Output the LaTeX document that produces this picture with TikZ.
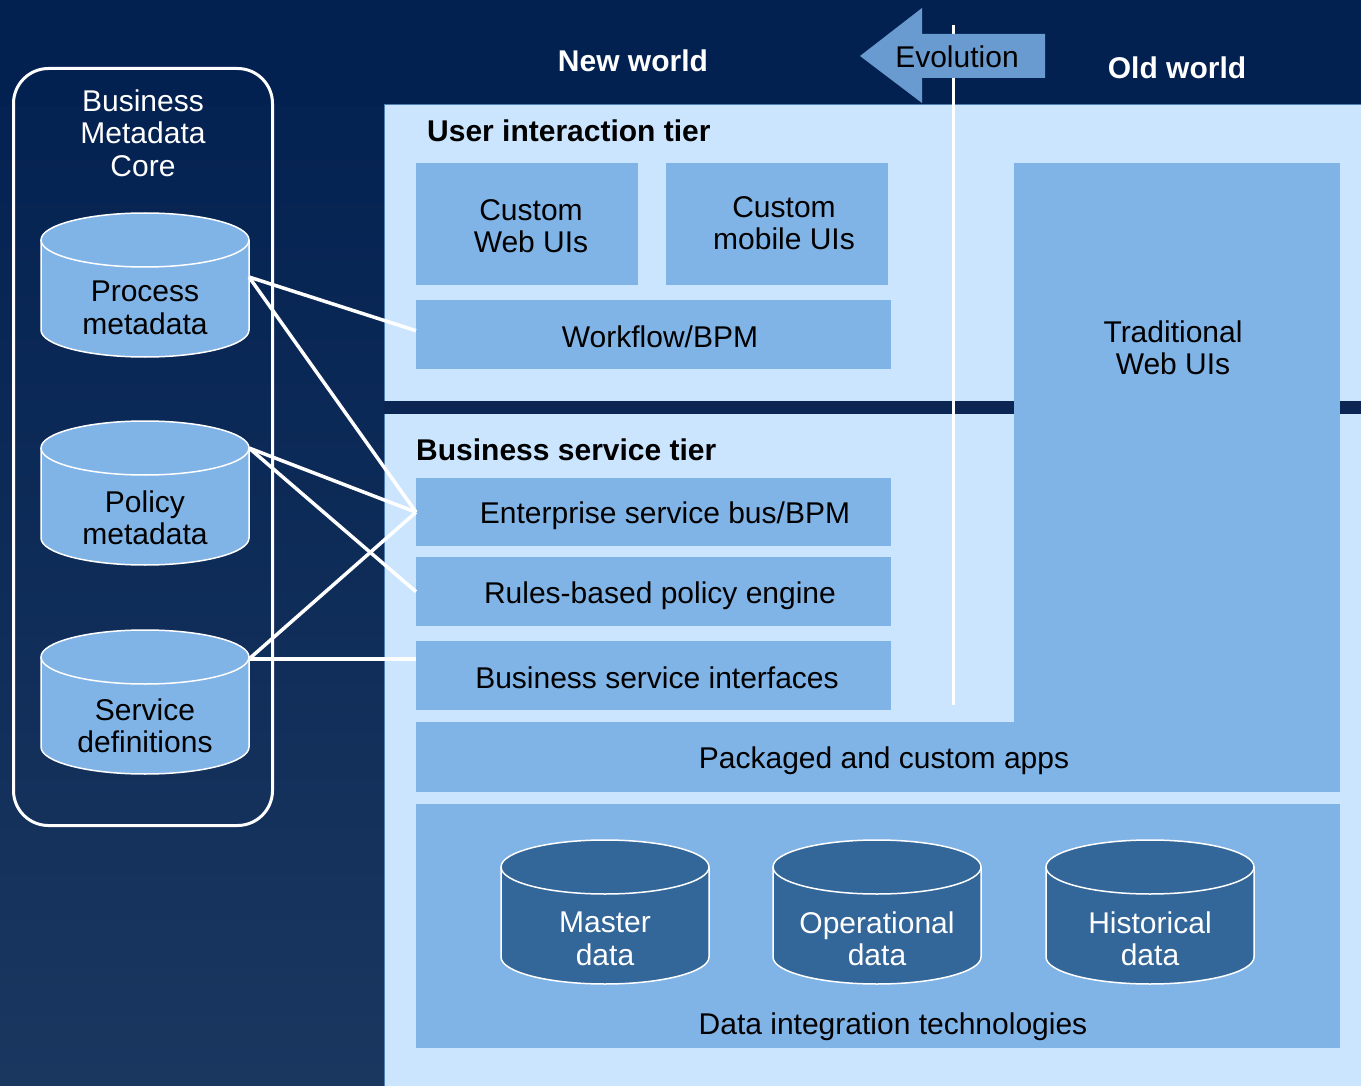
\documentclass[tikz,border=0pt]{standalone}
\usepackage{fontspec}
\setmainfont{Liberation Sans}
\definecolor{bgdark}{HTML}{0B2652}
\definecolor{bgtop}{HTML}{022050}
\definecolor{bgbot}{HTML}{1A3760}
\definecolor{panel}{HTML}{CCE5FF}
\definecolor{midblue}{HTML}{80B3E6}
\definecolor{cyldark}{HTML}{336699}
\definecolor{arrowblue}{HTML}{6A9BD0}
\definecolor{paneledge}{HTML}{4F7FB5}
\newcommand\mycyl[7]{%
  \fill[#4] (#2-104,#3+27) -- (#2-104,#3+117)
    arc[start angle=180,end angle=0,x radius=104,y radius=27]
    -- (#2+104,#3+27)
    arc[start angle=0,end angle=-180,x radius=104,y radius=27] -- cycle;
  \draw[white,line width=1.5] (#2-104,#3+27) -- (#2-104,#3+117)
    arc[start angle=180,end angle=0,x radius=104,y radius=27]
    -- (#2+104,#3+27);
  \draw[white,line width=1.5] (#2,#3+27) ellipse[x radius=104,y radius=27];
  \node[txt,text=#5] (#1) at (#2,#3+#7) {#6};
}
\begin{document}
\begin{tikzpicture}[x=1pt,y=-1pt,
  txt/.style={font=\fontsize{30}{32.5}\selectfont,align=center,inner sep=0},
  btxt/.style={font=\fontsize{30}{32}\selectfont\bfseries,inner sep=0},
  fillbox/.style={fill=midblue,inner sep=0,txt},
  conn/.style={draw=white,line width=3.5}]
\useasboundingbox (0,0) rectangle (1361,1086);
% background
\shade[top color=bgtop,bottom color=bgbot] (0,0) rectangle (1361,1086);
\fill[bgtop] (0,0) rectangle (1361,105);
% panel
\fill[panel,draw=paneledge,line width=1] (384,105) rectangle (1361,1090);
\fill[bgdark] (384,401) rectangle (1361,414);
% boxes
\node[fillbox,minimum width=222,minimum height=122,anchor=north west] (cweb) at (416,163) {};
\node[txt] (cwebt) at (531,226) {Custom\\Web UIs};
\node[fillbox,minimum width=222,minimum height=122,anchor=north west] (cmob) at (666,163) {};
\node[txt] (cmobt) at (784,223) {Custom\\mobile UIs};
\node[fillbox,minimum width=475,minimum height=69,anchor=north west] (wf) at (416,300) {};
\node[txt] (wft) at (660,337) {Workflow/BPM};
\node[fillbox,minimum width=475,minimum height=68,anchor=north west] (esb) at (416,478) {};
\node[txt] (esbt) at (665,516) {Enterprise service bus/BPM};
\node[fillbox,minimum width=475,minimum height=69,anchor=north west] (rules) at (416,557) {};
\node[txt] (rulest) at (660,596) {Rules-based policy engine};
\node[fillbox,minimum width=475,minimum height=69,anchor=north west] (bsi) at (416,641) {};
\node[txt] (bsit) at (657,678) {Business service interfaces};
\node[fillbox,minimum width=326,minimum height=562,anchor=north west] (trad) at (1014,163) {};
\node[txt] (tradt) at (1173,348) {Traditional\\Web UIs};
\node[fillbox,minimum width=924,minimum height=70,anchor=north west] (pkg) at (416,722) {};
\node[txt] (pkgt) at (884,761) {Packaged and custom apps};
\node[fillbox,minimum width=924,minimum height=244,anchor=north west] (dit) at (416,804) {};
\node[txt] (ditt) at (893,1027) {Data integration technologies};
% tier titles
\node[btxt,anchor=west] (uit) at (427,131) {User interaction tier};
\node[btxt,anchor=west] (bst) at (416,450) {Business service tier};
% data cylinders
\mycyl{master}{605}{840}{cyldark}{white}{Master\\data}{99}
\mycyl{oper}{877}{840}{cyldark}{white}{Operational\\data}{99}
\mycyl{hist}{1150}{840}{cyldark}{white}{Historical\\data}{99}
% evolution line and arrow
\coordinate (evtop) at (953,25);
\coordinate (evbot) at (953,705);
\draw[white,line width=3] (evtop) -- (evbot);
\fill[arrowblue] (860,56) -- (922,8) -- (922,34) -- (1045,34) -- (1045,78) -- (922,78) -- (922,103) -- cycle;
\node[txt] (evo) at (957,57) {Evolution};
\node[btxt,text=white] (nw) at (633,61) {New world};
\node[btxt,text=white] (ow) at (1177,68) {Old world};
% metadata core
\node[draw=white,line width=3,rounded corners=35,minimum width=259,minimum height=757,anchor=north west] (core) at (12,67) {};
\node[txt,text=white] (coret) at (143,133) {Business\\Metadata\\Core};
\mycyl{proc}{145}{213}{midblue}{black}{Process\\metadata}{95}
\mycyl{pol}{145}{421}{midblue}{black}{Policy\\metadata}{97}
\mycyl{svc}{145}{630}{midblue}{black}{Service\\definitions}{96}
\coordinate (procR) at (249,277);
\coordinate (polR) at (249,448);
\coordinate (svcR) at (249,659);
% connectors
\draw[conn] (procR) -- ([yshift=4]wf.west);
\draw[conn] (procR) -- (esb.west);
\draw[conn] (polR) -- (esb.west);
\draw[conn] (polR) -- (rules.west);
\draw[conn] (svcR) -- (esb.west);
\draw[conn] (svcR) -- (bsi.west |- svcR);
\end{tikzpicture}
\end{document}
